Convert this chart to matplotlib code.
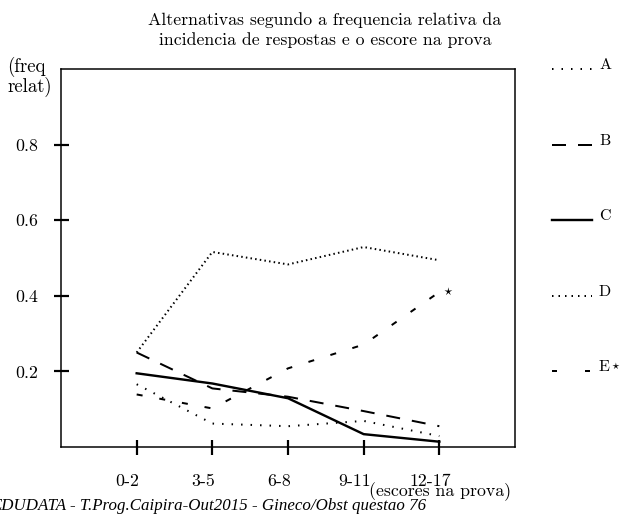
import matplotlib
matplotlib.use("Agg")
import matplotlib.pyplot as plt
import matplotlib.transforms as mtransforms

# ---- data ----
categories = ["0-2", "3-5", "6-8", "9-11", "12-17"]
alt_A = [0.166, 0.062, 0.055, 0.069, 0.029]
alt_B = [0.250, 0.155, 0.133, 0.095, 0.055]
alt_C = [0.195, 0.168, 0.129, 0.034, 0.014]
alt_D = [0.250, 0.516, 0.483, 0.529, 0.494]
alt_E = [0.139, 0.102, 0.208, 0.271, 0.410]
series_labels = ["A", "B", "C", "D", "E"]
ytick_vals = [0.2, 0.4, 0.6, 0.8]
ytick_labels = ["0.2", "0.4", "0.6", "0.8"]

plt.rcParams["font.family"] = ["cmr10", "DejaVu Serif"]
plt.rcParams["mathtext.fontset"] = "cm"
plt.rcParams["axes.formatter.use_mathtext"] = True
plt.rcParams["lines.scale_dashes"] = False

FS = 12.8
LFS = 11.5
DPI = 100
fig = plt.figure(figsize=(6.2, 5.16), dpi=DPI)
ax = fig.add_axes([61 / 620, 69 / 516, 454 / 620, 378 / 516])

x = list(range(1, len(categories) + 1))
px = 0.72  # points per pixel

styles = {
    "A": dict(linestyle=(0, (1.5 * px, 8 * px)), linewidth=2.0 * px),
    "B": dict(linestyle=(0, (14 * px, 12 * px)), linewidth=2.0 * px),
    "C": dict(linestyle="-", linewidth=2.4 * px),
    "D": dict(linestyle=(0, (1.5 * px, 3.2 * px)), linewidth=2.0 * px),
    "E": dict(linestyle=(0, (6 * px, 17 * px)), linewidth=2.0 * px),
}
all_series = [alt_A, alt_B, alt_C, alt_D, alt_E]
keys = ["A", "B", "C", "D", "E"]
for key, ys in zip(keys, all_series):
    ax.plot(x, ys, color="black", dash_capstyle="butt", **styles[key])

# star next to last point of E
ax.annotate("$\\star$", xy=(x[-1], alt_E[-1]), xytext=(2.5, 0),
            textcoords="offset points", ha="left", va="center", fontsize=9)

ax.set_xlim(0, 6)
ax.set_ylim(0, 1)
ax.set_xticks(x)
ax.set_xticklabels(categories)
ax.set_yticks(ytick_vals)
ax.set_yticklabels(ytick_labels)

for sp in ax.spines.values():
    sp.set_linewidth(1.5 * px)
ax.tick_params(axis="both", direction="inout", length=15 * px, width=2.2 * px,
               labelsize=FS)
ax.tick_params(axis="y", pad=11.4)
ax.tick_params(axis="x", pad=14)
offset = mtransforms.ScaledTranslation(-9 / DPI, 0, fig.dpi_scale_trans)
for lab in ax.get_xticklabels():
    lab.set_transform(lab.get_transform() + offset)

# legend on the right, aligned with y levels
leg_levels = [1.0] + ytick_vals[::-1]
trans = mtransforms.blended_transform_factory(ax.transAxes, ax.transData)
leg_x0, leg_x1, leg_xt = (552 - 61) / 454, (592 - 61) / 454, (599 - 61) / 454
leg_styles = dict(styles)
leg_styles["E"] = dict(linestyle=(0, (5 * px, 28 * px)), linewidth=2.0 * px)
leg_styles["D"] = dict(linestyle=(0, (1.5 * px, 5 * px)), linewidth=2.0 * px)
for key, lab, yl in zip(keys, series_labels, leg_levels):
    ax.plot([leg_x0, leg_x1], [yl, yl], color="black", transform=trans,
            clip_on=False, dash_capstyle="butt", **leg_styles[key])
    t = ax.text(leg_xt, yl, lab, transform=trans, ha="left", va="baseline",
                fontsize=LFS)
    if key == "E":
        ax.annotate("$\\star$", xy=(1, 0), xycoords=t, xytext=(0.5, 2.5),
                    textcoords="offset points", ha="left", va="bottom",
                    fontsize=8)

# texts
fig.text(325 / 620, 1 - 20.5 / 516, "Alternativas segundo a frequencia relativa da",
         ha="center", va="center", fontsize=FS)
fig.text(325 / 620, 1 - 40.5 / 516, "incidencia de respostas e o escore na prova",
         ha="center", va="center", fontsize=FS)
fig.text(7 / 620, 1 - 66.5 / 516, "(freq", ha="left", va="center", fontsize=FS + 0.7)
fig.text(7 / 620, 1 - 87 / 516, "relat)", ha="left", va="center", fontsize=FS + 0.7)
fig.text(511 / 620, 1 - 492 / 516, "(escores na prova)", ha="right", va="center",
         fontsize=FS)
fig.text(426 / 620, 1 - 506 / 516,
         "EDUDATA - T.Prog.Caipira-Out2015 - Gineco/Obst questao 76",
         ha="right", va="center", fontsize=12.2,
         family="Liberation Serif", style="italic")

fig.savefig("out.png", dpi=DPI)
